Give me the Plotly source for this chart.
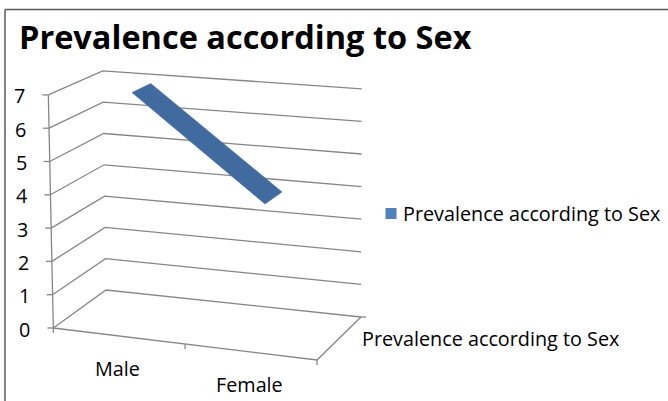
import plotly.graph_objects as go

# ---------------- data ----------------
categories = ["Male", "Female"]
values = [7, 4]
series_name = "Prevalence according to Sex"
y_ticks = [0, 1, 2, 3, 4, 5, 6, 7]
chart_title = "Prevalence according to Sex"

# ---------------- 3D frame geometry (pixel projection of the box) ----------------
W, H = 668, 401
FLB = (53.3, 328.0)   # front-left bottom
FRB = (317.0, 360.0)  # front-right bottom
BLB = (106.0, 290.0)  # back-left bottom
BRB = (361.0, 317.0)  # back-right bottom
UNIT = (33.3, 34.6, 31.3, 32.6)   # px per value unit at FL, FR, BL, BR
LEAN = (-0.71, -0.14, -0.47, 0.10)  # x shift per value unit
VMAX = max(y_ticks)
NCAT = len(categories)
D0, D1 = 0.32, 0.68  # ribbon depth extent

GRID = "#868686"
FONT = "Open Sans, sans-serif"
LBL = 19.8


def bil(q, u, w):
    a, b, c, d = q
    front = a + (b - a) * u
    back = c + (d - c) * u
    return front + (back - front) * w


def proj(c, v, d):
    u = c / NCAT
    bx = bil((FLB[0], FRB[0], BLB[0], BRB[0]), u, d)
    by = bil((FLB[1], FRB[1], BLB[1], BRB[1]), u, d)
    h = bil(UNIT, u, d)
    ln = bil(LEAN, u, d)
    return bx + ln * v, by - h * v


fig = go.Figure()


def seg(points, color=GRID, width=1.3):
    xs = [p[0] for p in points]
    ys = [p[1] for p in points]
    fig.add_trace(go.Scatter(x=xs, y=ys, mode="lines", line=dict(color=color, width=width),
                             hoverinfo="skip", showlegend=False))


# back wall + side wall gridlines
for v in y_ticks:
    seg([proj(0, v, 0), proj(0, v, 1), proj(NCAT, v, 1)])
# floor front and right edges
seg([proj(0, 0, 0), proj(NCAT, 0, 0), proj(NCAT, 0, 1)])
# value axis
seg([proj(0, 0, 0), proj(0, VMAX, 0)])
# value ticks
for v in y_ticks:
    x, y = proj(0, v, 0)
    seg([(x, y), (x - 6, y)])
# category ticks
for c in range(NCAT + 1):
    x, y = proj(c, 0, 0)
    seg([(x, y), (x, y + 5)])
# series axis tick
x, y = proj(NCAT, 0, 1)
seg([(x, y), (x + 5, y)])

# ribbon (3D line)
rib = [proj(i + 0.5, values[i], D0) for i in range(NCAT)]
rib += [proj(i + 0.5, values[i], D1) for i in reversed(range(NCAT))]
fig.add_trace(go.Scatter(x=[p[0] for p in rib] + [rib[0][0]], y=[p[1] for p in rib] + [rib[0][1]],
                         mode="lines", fill="toself", fillcolor="#416A9E",
                         line=dict(color="#416A9E", width=0.5), name=series_name,
                         hoverinfo="skip", showlegend=False))

ann = []
# value tick labels
for v in y_ticks:
    x, y = proj(0, v, 0)
    ann.append(dict(x=x - 21, y=y + 1, text=str(v), xanchor="right", yanchor="middle",
                    showarrow=False, font=dict(family=FONT, size=LBL, color="#000")))
# category labels
for i, cat in enumerate(categories):
    x, y = proj(i + 0.5, 0, 0)
    ann.append(dict(x=x - 2, y=y + 32, text=cat, xanchor="center", yanchor="middle",
                    showarrow=False, font=dict(family=FONT, size=LBL, color="#000")))
# series axis label
x, y = proj(NCAT, 0, 0.5)
ann.append(dict(x=x + 21, y=y, text=series_name, xanchor="left", yanchor="middle",
                showarrow=False, font=dict(family=FONT, size=LBL, color="#000")))
# legend
ann.append(dict(x=401, y=213, text=series_name, xanchor="left", yanchor="middle",
                showarrow=False, font=dict(family=FONT, size=LBL, color="#000")))
# title
ann.append(dict(x=17, y=36, text="<b>" + chart_title + "</b>", xanchor="left", yanchor="middle",
                showarrow=False, font=dict(family=FONT, size=32.5, color="#000")))

fig.add_trace(go.Scatter(x=[391], y=[213.5], mode="markers",
                         marker=dict(symbol="square", size=11, color="#4F81BD"),
                         hoverinfo="skip", showlegend=False))

shapes = [
    dict(type="line", xref="x", yref="y", x0=5, x1=W + 5, y0=9.5, y1=9.5, line=dict(color="#5a5a5a", width=1.5)),
    dict(type="line", xref="x", yref="y", x0=5, x1=5, y0=9.5, y1=H + 5, line=dict(color="#5a5a5a", width=1.5)),
]

fig.update_layout(
    width=W, height=H,
    margin=dict(l=0, r=0, t=0, b=0),
    paper_bgcolor="white", plot_bgcolor="white",
    xaxis=dict(range=[0, W], visible=False, fixedrange=True),
    yaxis=dict(range=[H, 0], visible=False, fixedrange=True),
    annotations=ann, shapes=shapes, showlegend=False,
)

fig.write_html("out.html")
